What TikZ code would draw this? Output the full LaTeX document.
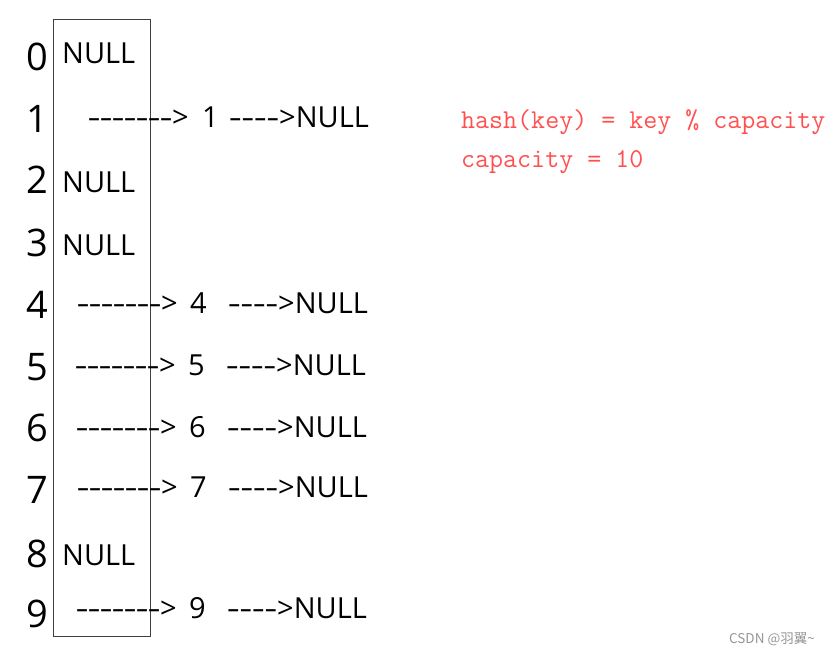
\documentclass[tikz,border=0pt]{standalone}
\usepackage{fontspec}
\setmainfont{Open Sans}
\newfontfamily\cjk{Noto Sans CJK SC}
\usepackage{graphicx}
\definecolor{hashred}{RGB}{255,80,80}
\definecolor{markgray}{RGB}{150,150,150}
\newcommand\dd[1][12pt]{\makebox[#1][c]{\scalebox{1.4}[1]{-}}}
\newcommand\longarrow{\dd\dd\dd\dd\dd\dd\dd>}
\newcommand\shortarrow{\dd[12.5pt]\dd[12.5pt]\dd[12.5pt]\dd[12.5pt]>}
\tikzset{
  idx/.style={anchor=base, inner sep=0pt, font=\fontsize{38}{40}\selectfont},
  cell/.style={anchor=base west, inner sep=0pt, font=\fontsize{29}{31}\selectfont},
  note/.style={anchor=base west, inner sep=0pt, text=hashred, font=\ttfamily\fontsize{27.2}{29}\selectfont},
  wmark/.style={anchor=base east, inner sep=0pt, text=markgray, font=\cjk\fontsize{13.5}{15}\selectfont},
  table/.style={draw=black!75, line width=1pt},
}
\begin{document}
\begin{tikzpicture}[x=1pt,y=-1pt]
\useasboundingbox (0,0) rectangle (829,654);
\fill[white] (0,0) rectangle (829,654);
% bucket array
\draw[table] (53,19) rectangle (150,636);
% indices
\node[idx] (i0) at (37,70) {0};
\node[idx] (i1) at (37,132) {1};
\node[idx] (i2) at (37,193) {2};
\node[idx] (i3) at (37,256) {3};
\node[idx] (i4) at (37,318) {4};
\node[idx] (i5) at (37,380) {5};
\node[idx] (i6) at (37,441) {6};
\node[idx] (i7) at (37,503) {7};
\node[idx] (i8) at (37,567) {8};
\node[idx] (i9) at (37,627) {9};
% empty buckets
\node[cell] (b0) at (62,63) {NULL};
\node[cell] (b2) at (62,192) {NULL};
\node[cell] (b3) at (62,255) {NULL};
\node[cell] (b8) at (62,565) {NULL};
% chains
\node[cell] (a1) at (88,127) {\longarrow};
\node[cell] (v1) at (202,127) {1};
\node[cell] (n1) at (229,127) {\shortarrow NULL};
\node[cell] (a4) at (77,313) {\longarrow};
\node[cell] (v4) at (190,313) {4};
\node[cell] (n4) at (228,313) {\shortarrow NULL};
\node[cell] (a5) at (75,375) {\longarrow};
\node[cell] (v5) at (188,375) {5};
\node[cell] (n5) at (226,375) {\shortarrow NULL};
\node[cell] (a6) at (76,437) {\longarrow};
\node[cell] (v6) at (189,437) {6};
\node[cell] (n6) at (227,437) {\shortarrow NULL};
\node[cell] (a7) at (77,497) {\longarrow};
\node[cell] (v7) at (190,497) {7};
\node[cell] (n7) at (228,497) {\shortarrow NULL};
\node[cell] (a9) at (76,618) {\longarrow};
\node[cell] (v9) at (189,618) {9};
\node[cell] (n9) at (227,618) {\shortarrow NULL};
% formula
\node[note] (f1) at (461,128) {hash(key) = key \% capacity};
\node[note] (f2) at (461,167) {capacity = 10};
% watermark
\node[wmark] (wm) at (815,643) {CSDN @羽翼\textasciitilde};
\end{tikzpicture}
\end{document}
